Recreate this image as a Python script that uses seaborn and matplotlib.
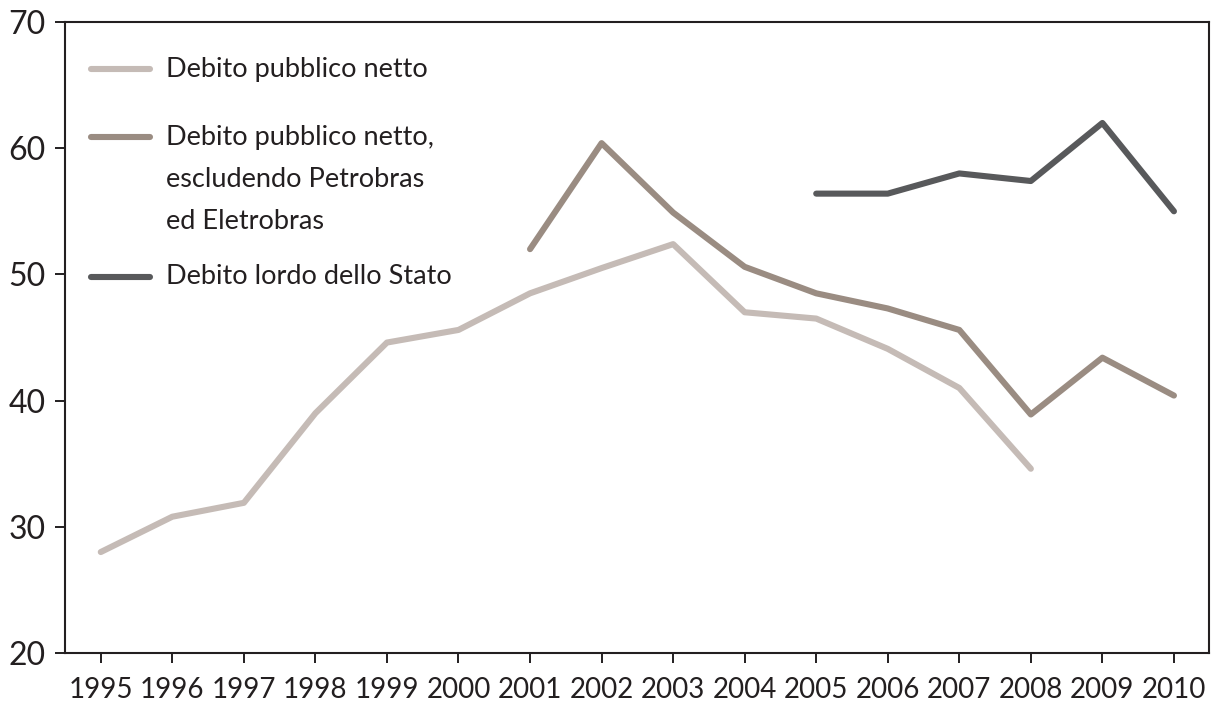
import matplotlib
matplotlib.use("Agg")
import matplotlib.pyplot as plt
import seaborn as sns
import pandas as pd
import numpy as np

years = list(range(1995, 2011))
netto = [28.0, 30.8, 31.9, 39.0, 44.6, 45.6, 48.5, 50.5, 52.4, 47.0, 46.5, 44.1, 41.0, 34.6, None, None]
netto_escl = [None, None, None, None, None, None, 52.0, 60.4, 54.9, 50.6, 48.5, 47.3, 45.6, 38.9, 43.4, 40.4]
lordo = [None, None, None, None, None, None, None, None, None, None, 56.4, 56.4, 58.0, 57.4, 62.0, 55.0]

series_names = ["Debito pubblico netto",
                "Debito pubblico netto,\nescludendo Petrobras\ned Eletrobras",
                "Debito lordo dello Stato"]
colors = ["#c5bbb6", "#9a8c82", "#58595b"]
yticks = [20, 30, 40, 50, 60, 70]

rows = []
for name, vals in zip(series_names, [netto, netto_escl, lordo]):
    for y, v in zip(years, vals):
        if v is not None:
            rows.append({"anno": y, "valore": v, "serie": name})
df = pd.DataFrame(rows)

sns.set_theme(style="white")
plt.rcParams["font.family"] = ["Lato", "DejaVu Sans"]

fig = plt.figure(figsize=(12.18, 7.02), dpi=100)
ax = fig.add_axes([65 / 1218, 49 / 702, 1144 / 1218, 631 / 702])

sns.lineplot(data=df, x="anno", y="valore", hue="serie", hue_order=series_names,
             palette=dict(zip(series_names, colors)), linewidth=4.4, legend=False, ax=ax,
             solid_capstyle="round", solid_joinstyle="round")

ax.set_xlim(1994.5, 2010.49)
ax.set_ylim(20, 70)
ax.set_xticks(years)
ax.set_xticklabels([str(y) for y in years], fontsize=20, color="#231f20")
ax.set_yticks(yticks)
ax.set_yticklabels([str(t) for t in yticks], fontsize=23, color="#231f20")
ax.set_xlabel("")
ax.set_ylabel("")
for s in ax.spines.values():
    s.set_visible(True)
    s.set_color("#231f20")
    s.set_linewidth(1.5)
ax.tick_params(axis="both", direction="out", length=7, width=1.4, color="#231f20",
               bottom=True, left=True, top=False, right=False)
ax.tick_params(axis="x", pad=10)
ax.tick_params(axis="y", pad=7)
ax.grid(False)

# Legend drawn in axes coordinates
leg_rows = [
    (0.9255, ["Debito pubblico netto"]),
    (0.8177, ["Debito pubblico netto,", "escludendo Petrobras", "ed Eletrobras"]),
    (0.5959, ["Debito lordo dello Stato"]),
]
line_step = 42 / 631
for (ypos, lines), c in zip(leg_rows, colors):
    ax.plot([0.0227, 0.0743], [ypos, ypos], transform=ax.transAxes, color=c,
            linewidth=4.4, solid_capstyle="round")
    for i, t in enumerate(lines):
        ax.text(0.0883, ypos - i * line_step, t, transform=ax.transAxes,
                fontsize=19.5, color="#231f20", va="center", ha="left")

fig.savefig("out.png", dpi=100)
